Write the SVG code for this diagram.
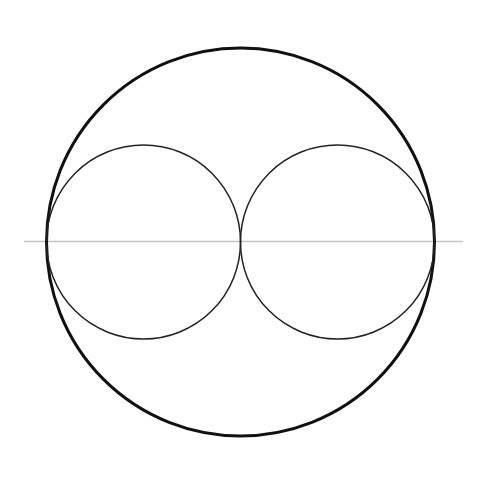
<svg xmlns="http://www.w3.org/2000/svg" width="486" height="500" viewBox="0 0 486 500">
<style>
.outer{fill:none;stroke:#111;stroke-width:3}
.inner{fill:none;stroke:#222;stroke-width:1.5}
.axis{stroke:#c4c4c4;stroke-width:1.5}
</style>
<rect width="486" height="500" fill="#fff"/>
<g id="connectors">
<line class="axis" x1="24" y1="241.5" x2="463" y2="241.5"/>
</g>
<g id="outer-circle"><circle class="outer" cx="240.5" cy="242" r="194"/></g>
<g id="left-circle"><circle class="inner" cx="143.5" cy="242" r="97"/></g>
<g id="right-circle"><circle class="inner" cx="337.5" cy="242" r="97"/></g>
</svg>
